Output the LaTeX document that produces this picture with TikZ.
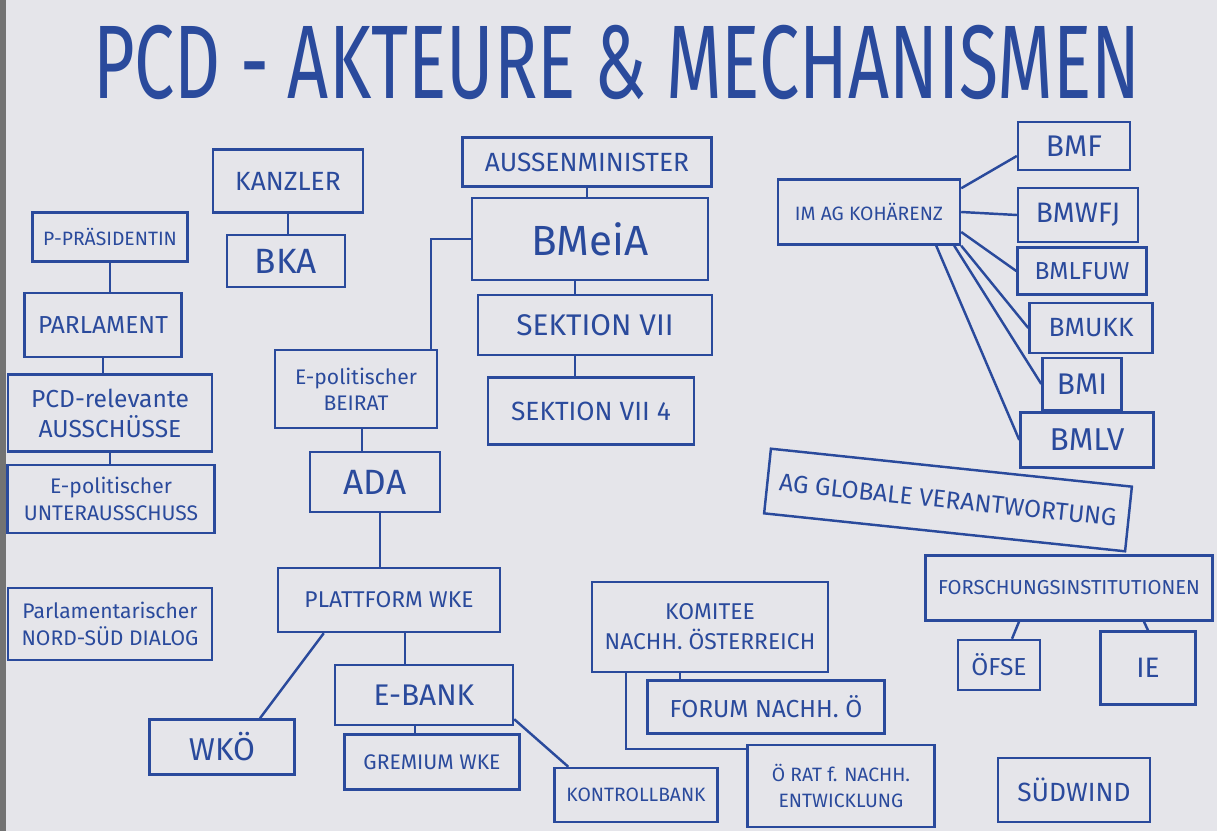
\documentclass[tikz,border=0pt]{standalone}
\usepackage{fontspec}
\setmainfont{Fira Sans}
\definecolor{ink}{HTML}{2A4A9C}
\definecolor{paper}{HTML}{E5E5EA}
\tikzset{
  box/.style={draw=ink, line width=1.4pt, text=ink, align=center, inner sep=1pt},
  fs/.style={font=\fontsize{#1}{#1}\selectfont},
  link/.style={draw=ink, line width=1.4pt},
}

\begin{document}
\begin{tikzpicture}[x=0.02cm, y=-0.02cm]
\useasboundingbox (0,0) rectangle (1217,831);
\fill[paper] (0,0) rectangle (1217,831);
\fill[black!55] (0,0) rectangle (6,831);

\node[text=ink, fs=34] (title) at (617,62) {\scalebox{1.2}[1.75]{PCD - AKTEURE \& MECHANISMEN}};

% parlament
\node[box, fs=11, minimum width=3.1cm, minimum height=0.98cm] (praes) at (110,237) {P-PRÄSIDENTIN};
\node[box, fs=14, minimum width=3.14cm, minimum height=1.28cm] (parl) at (103,325) {PARLAMENT};
\node[box, fs=14, minimum width=4.08cm, minimum height=1.54cm] (aussch) at (110,413) {PCD-relevante\\[3pt]AUSSCHÜSSE};
\node[box, fs=12, minimum width=4.14cm, minimum height=1.36cm] (unteraus) at (111,499) {E-politischer\\[3pt]UNTERAUSSCHUSS};
\node[box, fs=12, minimum width=4.08cm, minimum height=1.44cm] (nordsued) at (110,624) {Parlamentarischer\\[3pt]NORD-SÜD DIALOG};

\draw[link] (praes.south) -- (praes.south |- parl.north);
\draw[link] (parl.south) -- (parl.south |- aussch.north);
\draw[link] (aussch.south) -- (aussch.south |- unteraus.north);

% kanzler
\node[box, fs=15, minimum width=3.0cm, minimum height=1.26cm] (kanzler) at (288,181) {KANZLER};
\node[box, fs=20, minimum width=2.36cm, minimum height=1.04cm] (bka) at (286,261) {BKA};
\draw[link] (kanzler.south) -- (kanzler.south |- bka.north);

% aussenministerium
\node[box, fs=15, minimum width=4.98cm, minimum height=0.98cm] (aussenmin) at (587,162) {AUSSENMINISTER};
\node[box, fs=24, minimum width=4.72cm, minimum height=1.64cm] (bmeia) at (590,239) {BMeiA};
\node[box, fs=17, minimum width=4.68cm, minimum height=1.2cm] (sek7) at (595,325) {SEKTION VII};
\node[box, fs=15, minimum width=4.12cm, minimum height=1.34cm] (sek74) at (591,411) {SEKTION VII 4};
\draw[link] (aussenmin.south) -- (aussenmin.south |- bmeia.north);
\draw[link] ([xshift=-0.3cm]bmeia.south) -- ([xshift=-0.3cm]bmeia.south |- sek7.north);
\draw[link] ([xshift=-0.4cm]sek7.south) -- ([xshift=-0.4cm]sek7.south |- sek74.north);

\node[box, fs=12, minimum width=3.24cm, minimum height=1.56cm] (beirat) at (356,389) {E-politischer\\[3pt]BEIRAT};
\draw[link] (bmeia.west) -| ([xshift=-0.14cm]beirat.north east);

% ada
\node[box, fs=20, minimum width=2.6cm, minimum height=1.2cm] (ada) at (375,482) {ADA};
\node[box, fs=13, minimum width=4.44cm, minimum height=1.28cm] (plattform) at (389,600) {PLATTFORM WKE};
\node[box, fs=18, minimum width=2.9cm, minimum height=1.1cm] (wkoe) at (222,747) {WKÖ};
\node[box, fs=17, minimum width=3.56cm, minimum height=1.2cm] (ebank) at (424,695) {E-BANK};
\node[box, fs=12, minimum width=3.5cm, minimum height=1.1cm] (gremium) at (432,762) {GREMIUM WKE};
\node[box, fs=11, minimum width=3.26cm, minimum height=1.08cm] (kontroll) at (636,795) {KONTROLLBANK};
\draw[link] ([xshift=0.12cm]beirat.south) -- ([xshift=0.12cm]beirat.south |- ada.north);
\draw[link] ([xshift=0.1cm]ada.south) -- ([xshift=0.1cm]ada.south |- plattform.north);
\draw[link] ([xshift=0.94cm]plattform.south west) -- ([xshift=0.76cm]wkoe.north);
\draw[link] ([xshift=0.32cm]plattform.south) -- ([xshift=0.32cm]plattform.south |- ebank.north);
\draw[link] ([xshift=-0.18cm]ebank.south) -- ([xshift=-0.18cm]ebank.south |- gremium.north);
\draw[link] ([yshift=0.14cm]ebank.south east) -- ([xshift=0.3cm]kontroll.north west);

% nachhaltigkeit
\node[box, fs=13, minimum width=4.72cm, minimum height=1.8cm] (komitee) at (710,627) {KOMITEE\\[4pt]NACHH. ÖSTERREICH};
\node[box, fs=14, minimum width=4.74cm, minimum height=1.06cm] (forum) at (766,707) {FORUM NACHH. Ö};
\node[box, fs=11, minimum width=3.74cm, minimum height=1.64cm] (rat) at (841,786) {Ö RAT f. NACHH.\\[4pt]ENTWICKLUNG};
\draw[link] ([xshift=-0.6cm]komitee.south) -- ([xshift=-0.6cm]komitee.south |- forum.north);
\draw[link] ([xshift=0.7cm]komitee.south west) |- ([yshift=-0.1cm]rat.north west);

% kohaerenz
\node[box, fs=11, minimum width=3.64cm, minimum height=1.3cm] (imag) at (869,212) {IM AG KOHÄRENZ};
\node[box, fs=17, minimum width=2.24cm, minimum height=0.96cm] (bmf) at (1074,146) {BMF};
\node[box, fs=16, minimum width=2.4cm, minimum height=1.08cm] (bmwfj) at (1078,215) {BMWFJ};
\node[box, fs=14, minimum width=2.58cm, minimum height=0.94cm] (bmlfuw) at (1082,271) {BMLFUW};
\node[box, fs=15, minimum width=2.46cm, minimum height=1.0cm] (bmukk) at (1091,328) {BMUKK};
\node[box, fs=17, minimum width=1.58cm, minimum height=1.04cm] (bmi) at (1082,384) {BMI};
\node[box, fs=18, minimum width=2.66cm, minimum height=1.1cm] (bmlv) at (1087,440) {BMLV};
\draw[link] ([yshift=-0.2cm]imag.north east) -- ([yshift=-0.2cm]bmf.west);
\draw[link] (imag.east) -- (bmwfj.west);
\draw[link] ([yshift=-0.4cm]imag.east) -- (bmlfuw.west);
\draw[link] (imag.south east) -- (bmukk.west);
\draw[link] ([xshift=-0.14cm]imag.south east) -- (bmi.west);
\draw[link] ([xshift=-0.5cm]imag.south east) -- (bmlv.west);

% globale verantwortung
\node[box, fs=14, rotate=-6, minimum width=7.26cm, minimum height=1.3cm] (agglobal) at (948,500) {AG GLOBALE VERANTWORTUNG};
\node[box, fs=11.5, minimum width=5.74cm, minimum height=1.3cm] (forsch) at (1069,588) {FORSCHUNGSINSTITUTIONEN};
\node[box, fs=14, minimum width=1.64cm, minimum height=1.0cm] (oefse) at (999,665) {ÖFSE};
\node[box, fs=16, minimum width=1.9cm, minimum height=1.46cm] (ie) at (1148,668) {IE};
\node[box, fs=15, minimum width=3.04cm, minimum height=1.28cm] (suedwind) at (1074,790) {SÜDWIND};
\draw[link] ([xshift=-1cm]forsch.south) -- ([xshift=0.26cm]oefse.north);
\draw[link] ([xshift=1.5cm]forsch.south) -- (ie.north);
\end{tikzpicture}
\end{document}
